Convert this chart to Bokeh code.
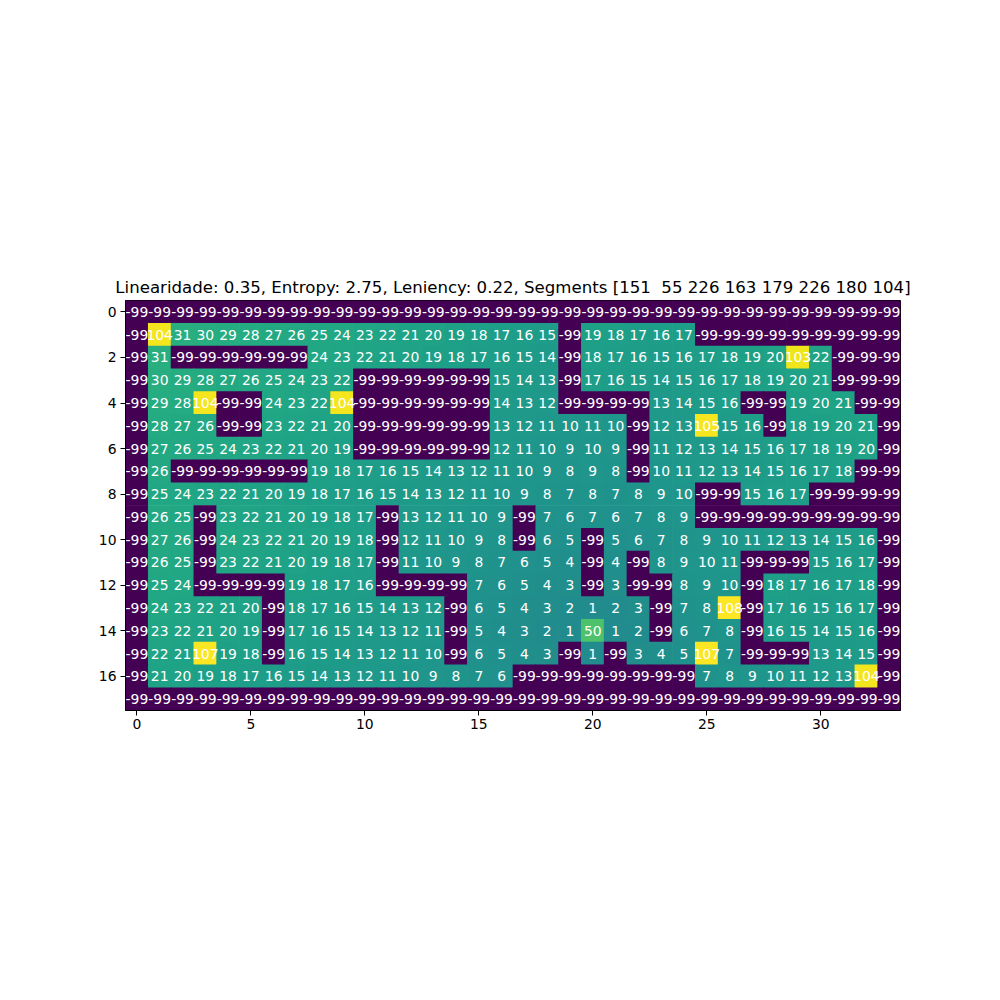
from bokeh.plotting import figure
from bokeh.models import Range1d, FixedTicker, LinearColorMapper, ColumnDataSource
from bokeh.palettes import Viridis256
from bokeh.core.properties import value
from bokeh.embed import file_html
from bokeh.resources import INLINE

title_text = "Linearidade: 0.35, Entropy: 2.75, Leniency: 0.22, Segments [151 \u00a055 226 163 179 226 180 104]"

grid = [
    [-99]*34,
    [-99,104,31,30,29,28,27,26,25,24,23,22,21,20,19,18,17,16,15,-99,19,18,17,16,17,-99,-99,-99,-99,-99,-99,-99,-99,-99],
    [-99,31,-99,-99,-99,-99,-99,-99,24,23,22,21,20,19,18,17,16,15,14,-99,18,17,16,15,16,17,18,19,20,103,22,-99,-99,-99],
    [-99,30,29,28,27,26,25,24,23,22,-99,-99,-99,-99,-99,-99,15,14,13,-99,17,16,15,14,15,16,17,18,19,20,21,-99,-99,-99],
    [-99,29,28,104,-99,-99,24,23,22,104,-99,-99,-99,-99,-99,-99,14,13,12,-99,-99,-99,-99,13,14,15,16,-99,-99,19,20,21,-99,-99],
    [-99,28,27,26,-99,-99,23,22,21,20,-99,-99,-99,-99,-99,-99,13,12,11,10,11,10,-99,12,13,105,15,16,-99,18,19,20,21,-99],
    [-99,27,26,25,24,23,22,21,20,19,-99,-99,-99,-99,-99,-99,12,11,10,9,10,9,-99,11,12,13,14,15,16,17,18,19,20,-99],
    [-99,26,-99,-99,-99,-99,-99,-99,19,18,17,16,15,14,13,12,11,10,9,8,9,8,-99,10,11,12,13,14,15,16,17,18,-99,-99],
    [-99,25,24,23,22,21,20,19,18,17,16,15,14,13,12,11,10,9,8,7,8,7,8,9,10,-99,-99,15,16,17,-99,-99,-99,-99],
    [-99,26,25,-99,23,22,21,20,19,18,17,-99,13,12,11,10,9,-99,7,6,7,6,7,8,9,-99,-99,-99,-99,-99,-99,-99,-99,-99],
    [-99,27,26,-99,24,23,22,21,20,19,18,-99,12,11,10,9,8,-99,6,5,-99,5,6,7,8,9,10,11,12,13,14,15,16,-99],
    [-99,26,25,-99,23,22,21,20,19,18,17,-99,11,10,9,8,7,6,5,4,-99,4,-99,8,9,10,11,-99,-99,-99,15,16,17,-99],
    [-99,25,24,-99,-99,-99,-99,19,18,17,16,-99,-99,-99,-99,7,6,5,4,3,-99,3,-99,-99,8,9,10,-99,18,17,16,17,18,-99],
    [-99,24,23,22,21,20,-99,18,17,16,15,14,13,12,-99,6,5,4,3,2,1,2,3,-99,7,8,108,-99,17,16,15,16,17,-99],
    [-99,23,22,21,20,19,-99,17,16,15,14,13,12,11,-99,5,4,3,2,1,50,1,2,-99,6,7,8,-99,16,15,14,15,16,-99],
    [-99,22,21,107,19,18,-99,16,15,14,13,12,11,10,-99,6,5,4,3,-99,1,-99,3,4,5,107,7,-99,-99,-99,13,14,15,-99],
    [-99,21,20,19,18,17,16,15,14,13,12,11,10,9,8,7,6,-99,-99,-99,-99,-99,-99,-99,-99,7,8,9,10,11,12,13,104,-99],
    [-99]*34,
]

x_ticks = [0, 5, 10, 15, 20, 25, 30]
y_ticks = [0, 2, 4, 6, 8, 10, 12, 14, 16]

n_rows = len(grid)
n_cols = len(grid[0])

xs, ys, vals, labels = [], [], [], []
for r, row in enumerate(grid):
    for c, v in enumerate(row):
        xs.append(c)
        ys.append(r)
        vals.append(v)
        labels.append(str(v))

src = ColumnDataSource(dict(x=xs, y=ys, v=vals, t=labels))

mapper = LinearColorMapper(palette=Viridis256, low=min(vals), high=max(vals))

W, H = 984, 984
frame_left, frame_top = 125, 300
frame_w, frame_h = 775, 410

p = figure(width=W, height=H, output_backend="svg", toolbar_location=None,
           x_range=Range1d(-0.5, n_cols - 0.5), y_range=Range1d(n_rows - 0.5, -0.5),
           min_border_left=frame_left, min_border_right=W - frame_left - frame_w,
           min_border_top=frame_top, min_border_bottom=H - frame_top - frame_h,
           title=title_text)

p.rect(x="x", y="y", width=1.03, height=1.03, source=src,
       fill_color={"field": "v", "transform": mapper}, line_color=None)

p.text(x="x", y="y", text="t", source=src, text_align="center", text_baseline="middle",
       text_color="white", text_font=value("DejaVu Sans"), text_font_size="13.9px")

p.title.align = "center"
p.title.text_font = "DejaVu Sans"
p.title.text_font_size = "16.6px"
p.title.text_font_style = "normal"
p.title.text_color = "black"
p.title.standoff = 8

p.grid.visible = False
p.outline_line_color = "black"
p.outline_line_width = 1

for ax in (p.xaxis[0], p.yaxis[0]):
    ax.major_label_text_font = "DejaVu Sans"
    ax.major_label_text_font_size = "13.9px"
    ax.major_label_text_color = "black"
    ax.axis_line_color = "black"
    ax.major_tick_line_color = "black"
    ax.major_tick_out = 5
    ax.major_tick_in = 0
    ax.minor_tick_line_color = None

p.xaxis[0].major_label_standoff = 3
p.yaxis[0].major_label_standoff = 4
p.xaxis[0].ticker = FixedTicker(ticks=x_ticks)
p.yaxis[0].ticker = FixedTicker(ticks=y_ticks)
p.yaxis[0].major_label_orientation = "horizontal"

open("out.html", "w").write(file_html(p, INLINE))
